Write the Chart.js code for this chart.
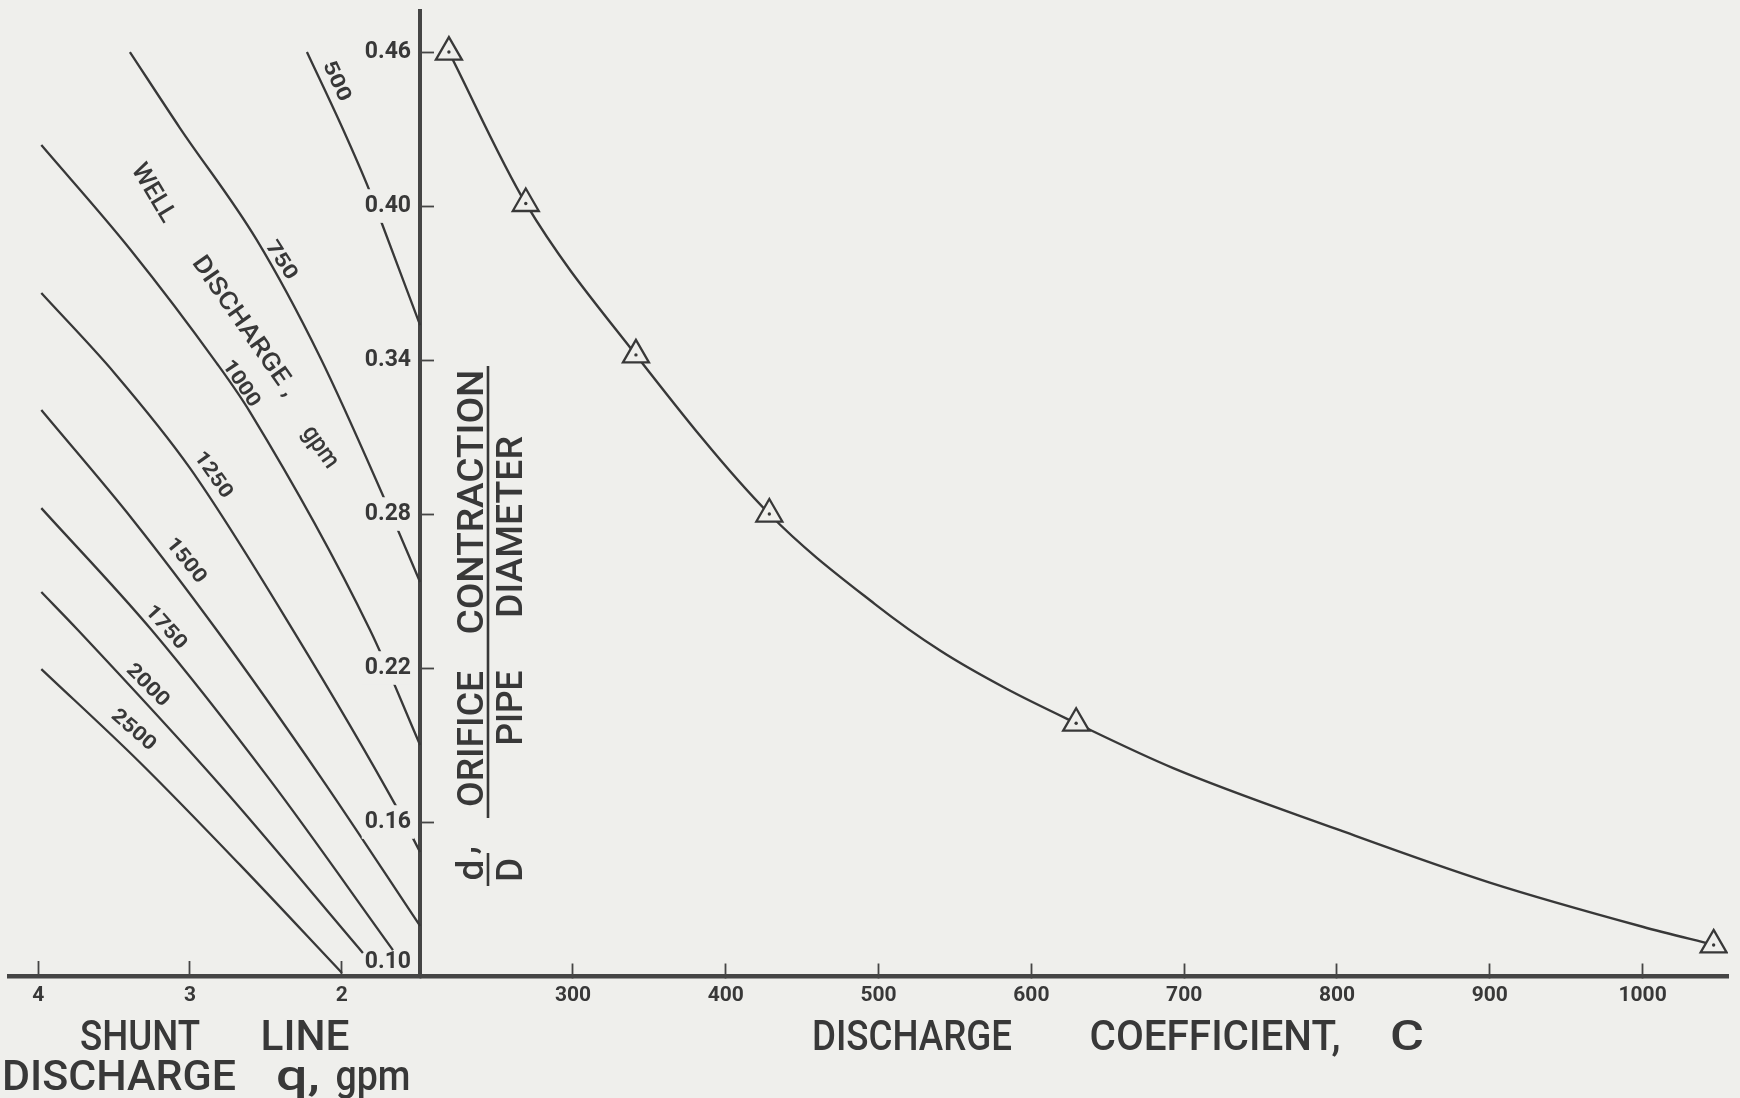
<!DOCTYPE html>
<html lang="en">

<head>
    <meta charset="UTF-8">
    <meta name="viewport" content="width=device-width, initial-scale=1.0">
    <script src="https://cdn.jsdelivr.net/npm/chart.js"></script>
    <title>Discharge coefficient</title>
    <style>
        html, body { margin: 0; padding: 0; background: #efefec; overflow: hidden; }
        .caixa-grafico { position: relative; width: 1740px; height: 1098px; }
    </style>
</head>

<body>
    <div class="caixa-grafico">
        <canvas id="grafico"></canvas>
    </div>
</body>

</html>

<script>
    // curvas de vazao do poco (lado esquerdo): q do shunt x d/D
    const vazoesPoco = ['500', '750', '1000', '1250', '1500', '1750', '2000', '2500'];

    const q500 = [2.229, 1.989, 1.818, 1.736, 1.483];
    const d500 = [0.460, 0.4296, 0.4062, 0.3934, 0.3536];

    const q750 = [3.396, 3.066, 2.560, 2.143, 1.715, 1.483];
    const d750 = [0.460, 0.4304, 0.3868, 0.3412, 0.2855, 0.2535];

    const q1000 = [3.980, 3.396, 2.824, 2.604, 1.813, 1.483];
    const d1000 = [0.4238, 0.3833, 0.3388, 0.3197, 0.2348, 0.190];

    const q1250 = [3.980, 3.497, 3.000, 2.321, 1.635, 1.483];
    const d1250 = [0.3661, 0.3349, 0.2979, 0.2348, 0.1655, 0.1483];

    const q1500 = [3.980, 3.376, 2.824, 2.143, 1.483];
    const d1500 = [0.3205, 0.2777, 0.2348, 0.1779, 0.1195];

    const q1750 = [3.980, 3.253, 2.473, 1.662];
    const d1750 = [0.2823, 0.2348, 0.1764, 0.1101];

    const q2000 = [3.980, 3.739, 2.802, 1.860];
    const d2000 = [0.2496, 0.2348, 0.1744, 0.1090];

    const q2500 = [3.980, 3.333, 2.670, 1.998];
    const d2500 = [0.2196, 0.1834, 0.1433, 0.1012];

    // coeficiente de descarga (lado direito)
    const coefC = [218.8, 269.1, 341.2, 428.5, 497.4, 541, 583.4, 629.3, 692.8, 800, 900, 1000, 1046.5];
    const coefD = [0.460, 0.401, 0.342, 0.280, 0.245, 0.2265, 0.212, 0.1985, 0.181, 0.1572, 0.1364, 0.1192, 0.1121];

    // pontos de ensaio (triangulos)
    const ensaioC = [218.8, 269.1, 341.2, 428.5, 629.3, 1046.5];
    const ensaioD = [0.460, 0.401, 0.342, 0.280, 0.1985, 0.1121];

    // ticks
    const ticksRazao = [0.10, 0.16, 0.22, 0.28, 0.34, 0.40, 0.46];
    const ticksCoef = [200, 300, 400, 500, 600, 700, 800, 900, 1000];
    const ticksShunt = [2, 3, 4];

    // onde ficam os rotulos das curvas (q, d/D, rotacao em graus)
    const posRotulos = [
        { q: 2.057, d: 0.448, rot: 65 },
        { q: 2.420, d: 0.378, rot: 57 },
        { q: 2.684, d: 0.330, rot: 56 },
        { q: 2.868, d: 0.2944, rot: 55 },
        { q: 3.046, d: 0.2609, rot: 51 },
        { q: 3.178, d: 0.2348, rot: 48 },
        { q: 3.297, d: 0.2122, rot: 45 },
        { q: 3.389, d: 0.1947, rot: 41 }
    ];

    const tinta = '#383838';
    const eixo = '#454545';
    const fundo = '#efefec';
    const fonte = 'Roboto';

    const curvasPoco = [[q500, d500], [q750, d750], [q1000, d1000], [q1250, d1250],
        [q1500, d1500], [q1750, d1750], [q2000, d2000], [q2500, d2500]];

    let datasets = [];

    for (let i = 0; i < curvasPoco.length; i++) {
        let qs = curvasPoco[i][0];
        let ds = curvasPoco[i][1];
        datasets.push({
            label: vazoesPoco[i] + ' gpm',
            data: qs.map((q, k) => ({ x: q, y: ds[k] })),
            xAxisID: 'xq',
            yAxisID: 'y',
            borderColor: tinta,
            borderWidth: 2.3,
            pointRadius: 0,
            cubicInterpolationMode: 'monotone',
            fill: false,
            order: 3
        });
    }

    datasets.push({
        label: 'C',
        data: coefC.map((c, k) => ({ x: c, y: coefD[k] })),
        xAxisID: 'x',
        yAxisID: 'y',
        borderColor: tinta,
        borderWidth: 2.4,
        pointRadius: 0,
        cubicInterpolationMode: 'monotone',
        fill: false,
        order: 3
    });

    datasets.push({
        label: 'ensaios',
        data: ensaioC.map((c, k) => ({ x: c, y: ensaioD[k] })),
        xAxisID: 'x',
        yAxisID: 'y',
        showLine: false,
        pointStyle: 'triangle',
        pointRadius: 15,
        pointBorderWidth: 2.3,
        pointBorderColor: tinta,
        pointBackgroundColor: fundo,
        order: 1
    });

    datasets.push({
        label: 'centro',
        data: ensaioC.map((c, k) => ({ x: c, y: ensaioD[k] })),
        xAxisID: 'x',
        yAxisID: 'y',
        showLine: false,
        pointStyle: 'circle',
        pointRadius: 1.7,
        pointBorderWidth: 0,
        pointBackgroundColor: tinta,
        order: 0
    });

    function semMargem(s) {
        s.paddingLeft = 0;
        s.paddingRight = 0;
        s.paddingTop = 0;
        s.paddingBottom = 0;
    }

    // escreve uma palavra centrada, girada e (se pedir) ajustada na largura
    function palavra(ctx, txt, cx, cy, tam, rot, largura, peso) {
        ctx.save();
        ctx.translate(cx, cy);
        ctx.rotate(rot * Math.PI / 180);
        ctx.font = (peso || '500') + ' ' + tam + 'px "' + fonte + '"';
        ctx.textAlign = 'center';
        ctx.textBaseline = 'alphabetic';
        if (largura) {
            let m = ctx.measureText(txt).width;
            ctx.scale(largura / m, 1);
        }
        ctx.fillText(txt, 0, tam * 0.355);
        ctx.restore();
    }

    function traco(ctx, x1, y1, x2, y2, w) {
        ctx.beginPath();
        ctx.lineWidth = w;
        ctx.moveTo(x1, y1);
        ctx.lineTo(x2, y2);
        ctx.stroke();
    }

    const textos = {
        id: 'textos',
        afterDraw(chart) {
            const ctx = chart.ctx;
            const xq = chart.scales.xq;
            const y = chart.scales.y;
            ctx.save();
            ctx.fillStyle = tinta;
            ctx.strokeStyle = tinta;

            // rotulos das curvas, um pouco acima da linha
            for (let i = 0; i < posRotulos.length; i++) {
                let p = posRotulos[i];
                let a = p.rot * Math.PI / 180;
                let px = xq.getPixelForValue(p.q) + 5.5 * Math.sin(a);
                let py = y.getPixelForValue(p.d) - 5.5 * Math.cos(a);
                let larg = vazoesPoco[i].length > 3 ? 52 : 42;
                palavra(ctx, vazoesPoco[i], px, py, 20, p.rot, larg, 'bold');
            }

            palavra(ctx, 'WELL', 155, 192, 25, 59, 64);
            palavra(ctx, 'DISCHARGE ,', 246, 325, 25, 55, 165);
            palavra(ctx, 'gpm', 322, 446, 25, 55, 46);

            // titulos de baixo
            palavra(ctx, 'SHUNT', 140, 1035, 42, 0, 120);
            palavra(ctx, 'LINE', 305, 1035, 42, 0, 89);
            palavra(ctx, 'DISCHARGE', 119, 1075, 42, 0, 234);
            palavra(ctx, 'q,', 298, 1075, 42, 0, 44);
            palavra(ctx, 'gpm', 373, 1075, 42, 0, 75);

            palavra(ctx, 'DISCHARGE', 912, 1035, 42, 0, 200);
            palavra(ctx, 'COEFFICIENT,', 1215, 1035, 42, 0, 251);
            palavra(ctx, 'C', 1407, 1035, 42, 0, 34);

            // titulo do eixo y (girado)
            palavra(ctx, 'CONTRACTION', 470, 502, 37, -90, 265);
            palavra(ctx, 'ORIFICE', 470, 739, 37, -90, 136);
            palavra(ctx, 'DIAMETER', 509, 527, 37, -90, 182);
            palavra(ctx, 'PIPE', 509, 708, 37, -90, 75);
            traco(ctx, 488, 366, 488, 818, 2.6);

            palavra(ctx, 'd', 470, 870, 37, -90);
            palavra(ctx, 'D', 509, 870, 37, -90);
            palavra(ctx, ',', 462, 850, 37, -90);
            traco(ctx, 488, 853, 488, 886, 2.6);

            ctx.restore();
        }
    };

    const fonteTick = { family: fonte, size: 21, weight: 'bold' };

    const config = {
        type: 'line',
        data: { datasets: datasets },
        options: {
            responsive: true,
            maintainAspectRatio: false,
            animation: false,
            layout: { autoPadding: false, padding: { left: 9, right: 12, top: 11, bottom: 122 } },
            plugins: {
                legend: { display: false },
                tooltip: { enabled: false }
            },
            scales: {
                x: {
                    type: 'linear',
                    axis: 'x',
                    min: -69.1,
                    max: 1055.9,
                    position: { y: 0.10 },
                    afterBuildTicks: (s) => { s.ticks = ticksCoef.map(v => ({ value: v })); },
                    afterFit: semMargem,
                    grid: { drawOnChartArea: false, tickLength: -15, tickWidth: 1.8, tickColor: eixo },
                    border: { color: eixo, width: 4.5, z: 2 },
                    ticks: {
                        autoSkip: false,
                        maxRotation: 0,
                        padding: 22,
                        color: tinta,
                        font: fonteTick,
                        callback: (v) => v === 200 ? '' : String(v)
                    }
                },
                xq: {
                    type: 'linear',
                    axis: 'x',
                    reverse: true,
                    min: -7.139,
                    max: 4.193,
                    position: { y: 0.10 },
                    afterBuildTicks: (s) => { s.ticks = ticksShunt.map(v => ({ value: v })); },
                    afterFit: semMargem,
                    grid: { drawOnChartArea: false, tickLength: -15, tickWidth: 1.8, tickColor: eixo },
                    border: { display: false },
                    ticks: {
                        autoSkip: false,
                        maxRotation: 0,
                        padding: 22,
                        color: tinta,
                        font: fonteTick,
                        callback: (v) => String(v)
                    }
                },
                y: {
                    type: 'linear',
                    axis: 'y',
                    min: 0.10,
                    max: 0.476,
                    position: { x: 200 },
                    afterBuildTicks: (s) => { s.ticks = ticksRazao.map(v => ({ value: v })); },
                    afterFit: semMargem,
                    grid: { drawOnChartArea: false, tickLength: -16, tickWidth: 1.8, tickColor: eixo },
                    border: { color: eixo, width: 4 },
                    ticks: { display: false }
                },
                yl: {
                    type: 'linear',
                    axis: 'y',
                    min: 0.10,
                    max: 0.476,
                    position: { x: 194 },
                    afterBuildTicks: (s) => { s.ticks = ticksRazao.map(v => ({ value: v })); },
                    afterFit: semMargem,
                    grid: { display: false, drawTicks: false, tickLength: 0 },
                    border: { display: false },
                    ticks: {
                        z: 1,
                        padding: 0,
                        color: tinta,
                        font: { family: fonte, size: 23, weight: 'bold' },
                        showLabelBackdrop: true,
                        backdropPadding: 3,
                        backdropColor: (c) => (c.tick && c.tick.value === 0.1) ? 'rgba(0,0,0,0)' : fundo,
                        callback: (v) => v === 0.1 ? ['0.10', ''] : v.toFixed(2)
                    }
                }
            }
        },
        plugins: [textos]
    };

    let grafico = new Chart(document.getElementById('grafico'), config);
</script>
